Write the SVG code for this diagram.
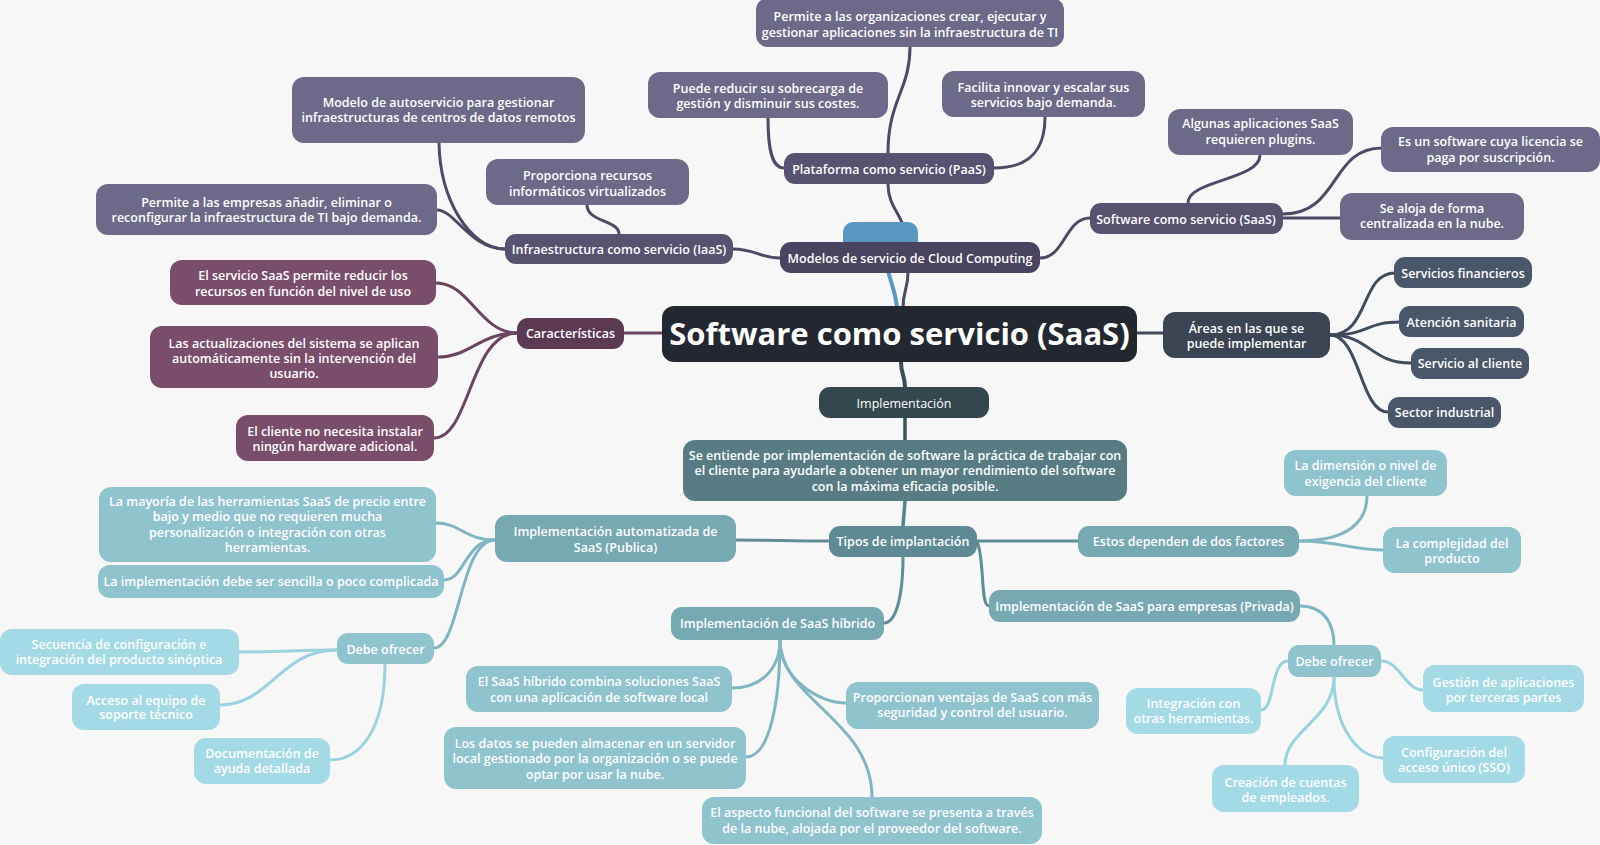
<svg xmlns="http://www.w3.org/2000/svg" width="1600" height="845" viewBox="0 0 1600 845">
<style>
text{font-family:"Open Sans","Noto Sans","Liberation Sans",sans-serif;font-weight:600;font-size:12.5px;fill:#ffffff;text-anchor:middle}
.c{fill:none;stroke-linecap:round}
.p0{fill:#494460}.p1{fill:#56526f}.p2{fill:#6d6989}
.m1{fill:#5c3a52}.m2{fill:#7a4e6b}
.s1{fill:#3a4453}.s2{fill:#4a5669}
.t0{fill:#34474d}.t1{fill:#577c83}.t2{fill:#5d8a94}.t3{fill:#77a9b3}.t4{fill:#8fc3ce}.t5{fill:#a3dae5}
.cp{stroke:#4e4a66;stroke-width:3}
.cm{stroke:#6b4560;stroke-width:3}
.cs{stroke:#404b5b;stroke-width:3}
.ct1{stroke:#5f8c96;stroke-width:3}
.ct2{stroke:#80b6c1;stroke-width:3}
.ct3{stroke:#9ad2dd;stroke-width:3}
.big{font-size:31px;font-weight:700}
.reg{font-weight:400}
</style>
<rect width="1600" height="845" fill="#f7f7f7"/>
<g id="connectors">
<path class="c" d="M897,308 C896,290 888,280 884,250" stroke="#5b97c0" stroke-width="4"/>
<path class="c cp" stroke-width="4" d="M903,308 C903,290 908,290 908,272"/>
<path class="c cp" d="M780,258 C760,258 755,249 733,249"/>
<path class="c cp" d="M906,243 C906,215 888,210 888,184"/>
<path class="c cp" d="M1040,258 C1065,258 1065,218 1090,218"/>
<path class="c cp" d="M888,153 C888,100 910,90 910,47"/>
<path class="c cp" d="M784,168 C772,168 768,150 768,118"/>
<path class="c cp" d="M994,168 C1030,168 1045,150 1045,117"/>
<path class="c cp" d="M505,249 C470,249 440,200 439,143"/>
<path class="c cp" d="M437,210 C455,210 470,249 505,249"/>
<path class="c cp" d="M619,234 C619,220 587,222 587,205"/>
<path class="c cp" d="M1188,203 C1188,180 1260,180 1260,155"/>
<path class="c cp" d="M1283,214 C1340,214 1330,148 1382,148"/>
<path class="c cp" d="M1283,218 L1340,218"/>
<path class="c cm" stroke-width="4" d="M662,333 L624,333"/>
<path class="c cm" d="M517,333 C480,333 470,283 436,283"/>
<path class="c cm" d="M517,333 C480,333 470,357 438,357"/>
<path class="c cm" d="M517,333 C470,333 470,438 434,438"/>
<path class="c cs" stroke-width="4" d="M1137,333 L1163,333"/>
<path class="c cs" d="M1330,335 C1370,335 1360,273 1395,273"/>
<path class="c cs" d="M1330,335 C1370,335 1365,322 1400,322"/>
<path class="c cs" d="M1330,335 C1370,335 1370,363 1411,363"/>
<path class="c cs" d="M1330,335 C1360,335 1360,412 1388,412"/>
<path class="c" stroke="#3a4d53" stroke-width="4" d="M901,362 C901,375 905,375 905,387"/>
<path class="c" stroke="#3d5359" stroke-width="3.5" d="M905,418 L905,440"/>
<path class="c" stroke="#5a828a" stroke-width="3.5" d="M905,501 L903,526"/>
<path class="c ct1" d="M829,541 C790,541 770,540 736,540"/>
<path class="c ct1" d="M977,541 L1078,541"/>
<path class="c ct1" d="M903,556 C903,600 895,623 884,623"/>
<path class="c ct1" d="M977,541 C985,560 980,606 989,606"/>
<path class="c ct2" d="M495,540 C465,540 460,523 436,523"/>
<path class="c ct2" d="M495,540 C465,540 465,580 444,580"/>
<path class="c ct2" d="M495,540 C460,540 460,648 434,648"/>
<path class="c ct3" d="M337,650 C300,650 280,652 239,652"/>
<path class="c ct3" d="M337,650 C280,650 270,705 220,705"/>
<path class="c ct3" d="M385,664 C385,730 360,760 330,760"/>
<path class="c ct2" d="M780,640 C780,670 760,688 732,688"/>
<path class="c ct2" d="M780,640 C780,700 770,757 746,757"/>
<path class="c ct2" d="M780,640 C780,680 820,703 846,703"/>
<path class="c ct2" d="M780,640 C780,700 872,720 872,797"/>
<path class="c ct2" d="M1299,541 C1350,541 1367,520 1367,496"/>
<path class="c ct2" d="M1299,541 C1340,541 1350,550 1383,550"/>
<path class="c ct2" d="M1300,606 C1325,606 1334,625 1334,645"/>
<path class="c ct3" d="M1381,661 C1400,661 1405,690 1423,690"/>
<path class="c ct3" d="M1288,661 C1270,661 1275,710 1261,710"/>
<path class="c ct3" d="M1334,677 C1334,730 1360,758 1383,758"/>
<path class="c ct3" d="M1334,677 C1334,720 1285,730 1285,765"/>
</g>
<g id="blue-tab"><rect x="843" y="222" width="75" height="30" rx="10" fill="#5b97c0"/></g>
<g id="modelos"><rect class="p0" x="780" y="242" width="260" height="31" rx="11"/><text x="910" y="262.5">Modelos de servicio de Cloud Computing</text></g>
<g id="iaas"><rect class="p1" x="505" y="234" width="228" height="30" rx="11"/><text x="619" y="253.5">Infraestructura como servicio (IaaS)</text></g>
<g id="paas"><rect class="p1" x="784" y="153" width="210" height="31" rx="11"/><text x="889" y="173.5">Plataforma como servicio (PaaS)</text></g>
<g id="saas2"><rect class="p1" x="1090" y="203" width="193" height="31" rx="11"/><text x="1186" y="223.5">Software como servicio (SaaS)</text></g>
<g id="iaas1"><rect class="p2" x="292" y="77" width="293" height="66" rx="12"/><text x="438.5" y="106.5">Modelo de autoservicio para gestionar</text><text x="438.5" y="121.5">infraestructuras de centros de datos remotos</text></g>
<g id="iaas2"><rect class="p2" x="486" y="159" width="203" height="46" rx="12"/><text x="587.5" y="179.5">Proporciona recursos</text><text x="587.5" y="195.5">informáticos virtualizados</text></g>
<g id="iaas3"><rect class="p2" x="96" y="184" width="341" height="51" rx="12"/><text x="266.5" y="206.5">Permite a las empresas añadir, eliminar o</text><text x="266.5" y="221.5">reconfigurar la infraestructura de TI bajo demanda.</text></g>
<g id="paas1"><rect class="p2" x="756" y="-2" width="308" height="49" rx="12"/><text x="910" y="20.5">Permite a las organizaciones crear, ejecutar y</text><text x="910" y="36.5">gestionar aplicaciones sin la infraestructura de TI</text></g>
<g id="paas2"><rect class="p2" x="648" y="72" width="240" height="46" rx="12"/><text x="768" y="92.5">Puede reducir su sobrecarga de</text><text x="768" y="107.5">gestión y disminuir sus costes.</text></g>
<g id="paas3"><rect class="p2" x="942" y="71" width="203" height="46" rx="12"/><text x="1043.5" y="91.5">Facilita innovar y escalar sus</text><text x="1043.5" y="106.5">servicios bajo demanda.</text></g>
<g id="saas2a"><rect class="p2" x="1168" y="109" width="185" height="46" rx="12"/><text x="1260.5" y="127.5">Algunas aplicaciones SaaS</text><text x="1260.5" y="143.5">requieren plugins.</text></g>
<g id="saas2b"><rect class="p2" x="1381" y="127" width="219" height="45" rx="12"/><text x="1490.5" y="145.5">Es un software cuya licencia se</text><text x="1490.5" y="161.5">paga por suscripción.</text></g>
<g id="saas2c"><rect class="p2" x="1340" y="193" width="184" height="47" rx="12"/><text x="1432" y="212.5">Se aloja de forma</text><text x="1432" y="227.5">centralizada en la nube.</text></g>
<g id="caracteristicas"><rect class="m1" x="517" y="318" width="107" height="31" rx="11"/><text x="570.5" y="338">Características</text></g>
<g id="car1"><rect class="m2" x="170" y="260" width="266" height="45" rx="12"/><text x="303" y="279.5">El servicio SaaS permite reducir los</text><text x="303" y="295.5">recursos en función del nivel de uso</text></g>
<g id="car2"><rect class="m2" x="150" y="326" width="288" height="62" rx="12"/><text x="294" y="347.5">Las actualizaciones del sistema se aplican</text><text x="294" y="362.5">automáticamente sin la intervención del</text><text x="294" y="377.5">usuario.</text></g>
<g id="car3"><rect class="m2" x="236" y="415" width="198" height="46" rx="12"/><text x="335" y="435.5">El cliente no necesita instalar</text><text x="335" y="450.5">ningún hardware adicional.</text></g>
<g id="central"><rect x="662" y="306" width="475" height="56" rx="12" fill="#232830"/><text class="big" x="899.5" y="345">Software como servicio (SaaS)</text></g>
<g id="areas"><rect class="s1" x="1163" y="312" width="167" height="46" rx="12"/><text x="1246.5" y="332.5">Áreas en las que se</text><text x="1246.5" y="347.5">puede implementar</text></g>
<g id="area1"><rect class="s2" x="1394" y="257" width="138" height="31" rx="11"/><text x="1463" y="277.5">Servicios financieros</text></g>
<g id="area2"><rect class="s2" x="1399" y="306" width="125" height="31" rx="11"/><text x="1461.5" y="326.5">Atención sanitaria</text></g>
<g id="area3"><rect class="s2" x="1411" y="348" width="118" height="31" rx="11"/><text x="1470" y="368">Servicio al cliente</text></g>
<g id="area4"><rect class="s2" x="1388" y="397" width="113" height="31" rx="11"/><text x="1444.5" y="417">Sector industrial</text></g>
<g id="implementacion"><rect class="t0" x="819" y="387" width="170" height="31" rx="11"/><text class="reg" x="904" y="407.5">Implementación</text></g>
<g id="se-entiende"><rect class="t1" x="683" y="440" width="444" height="61" rx="12"/><text x="905" y="459.5">Se entiende por implementación de software la práctica de trabajar con</text><text x="905" y="474.5">el cliente para ayudarle a obtener un mayor rendimiento del software</text><text x="905" y="490.5">con la máxima eficacia posible.</text></g>
<g id="tipos"><rect class="t2" x="829" y="526" width="148" height="31" rx="11"/><text x="903" y="546">Tipos de implantación</text></g>
<g id="automatizada"><rect class="t3" x="495" y="515" width="241" height="47" rx="12"/><text x="615.5" y="535.5">Implementación automatizada de</text><text x="615.5" y="551.5">SaaS (Publica)</text></g>
<g id="auto1"><rect class="t4" x="99" y="487" width="337" height="75" rx="12"/><text x="267.5" y="505.5">La mayoría de las herramientas SaaS de precio entre</text><text x="267.5" y="520.5">bajo y medio que no requieren mucha</text><text x="267.5" y="536.5">personalización o integración con otras</text><text x="267.5" y="551.5">herramientas.</text></g>
<g id="auto2"><rect class="t4" x="98" y="565" width="346" height="33" rx="12"/><text x="271" y="585.5">La implementación debe ser sencilla o poco complicada</text></g>
<g id="debe-l"><rect class="t4" x="337" y="633" width="97" height="31" rx="11"/><text x="385.5" y="653.5">Debe ofrecer</text></g>
<g id="debe-l1"><rect class="t5" x="0" y="629" width="239" height="46" rx="12"/><text x="119" y="648.5">Secuencia de configuración e</text><text x="119" y="663.5">integración del producto sinóptica</text></g>
<g id="debe-l2"><rect class="t5" x="72" y="684" width="148" height="46" rx="12"/><text x="146" y="704.5">Acceso al equipo de</text><text x="146" y="718.5">soporte técnico</text></g>
<g id="debe-l3"><rect class="t5" x="194" y="738" width="136" height="46" rx="12"/><text x="262" y="757.5">Documentación de</text><text x="262" y="772.5">ayuda detallada</text></g>
<g id="hibrido"><rect class="t3" x="671" y="607" width="213" height="33" rx="11"/><text x="777.5" y="628">Implementación de SaaS híbrido</text></g>
<g id="hib1"><rect class="t4" x="466" y="666" width="266" height="46" rx="12"/><text x="599" y="685.5">El SaaS híbrido combina soluciones SaaS</text><text x="599" y="701.5">con una aplicación de software local</text></g>
<g id="hib2"><rect class="t4" x="444" y="727" width="302" height="62" rx="12"/><text x="595" y="747.5">Los datos se pueden almacenar en un servidor</text><text x="595" y="762.5">local gestionado por la organización o se puede</text><text x="595" y="778.5">optar por usar la nube.</text></g>
<g id="hib3"><rect class="t4" x="846" y="682" width="253" height="47" rx="12"/><text x="972.5" y="701.5">Proporcionan ventajas de SaaS con más</text><text x="972.5" y="716.5">seguridad y control del usuario.</text></g>
<g id="hib4"><rect class="t4" x="702" y="797" width="340" height="47" rx="12"/><text x="872" y="816.5">El aspecto funcional del software se presenta a través</text><text x="872" y="832.5">de la nube, alojada por el proveedor del software.</text></g>
<g id="estos"><rect class="t3" x="1078" y="526" width="221" height="31" rx="11"/><text x="1188.5" y="546">Estos dependen de dos factores</text></g>
<g id="estos1"><rect class="t4" x="1284" y="450" width="163" height="46" rx="12"/><text x="1365.5" y="469.5">La dimensión o nivel de</text><text x="1365.5" y="485.5">exigencia del cliente</text></g>
<g id="estos2"><rect class="t4" x="1383" y="527" width="138" height="46" rx="12"/><text x="1452" y="547.5">La complejidad del</text><text x="1452" y="562.5">producto</text></g>
<g id="privada"><rect class="t3" x="989" y="590" width="311" height="32" rx="11"/><text x="1144.5" y="610.5">Implementación de SaaS para empresas (Privada)</text></g>
<g id="debe-r"><rect class="t4" x="1288" y="645" width="93" height="32" rx="11"/><text x="1334.5" y="665.5">Debe ofrecer</text></g>
<g id="debe-r1"><rect class="t5" x="1423" y="665" width="161" height="47" rx="12"/><text x="1503.5" y="686.5">Gestión de aplicaciones</text><text x="1503.5" y="701.5">por terceras partes</text></g>
<g id="debe-r2"><rect class="t5" x="1126" y="688" width="135" height="46" rx="12"/><text x="1193.5" y="707.5">Integración con</text><text x="1193.5" y="722.5">otras herramientas.</text></g>
<g id="debe-r3"><rect class="t5" x="1383" y="736" width="142" height="47" rx="12"/><text x="1454" y="756.5">Configuración del</text><text x="1454" y="771.5">acceso único (SSO)</text></g>
<g id="debe-r4"><rect class="t5" x="1212" y="765" width="147" height="47" rx="12"/><text x="1285.5" y="786.5">Creación de cuentas</text><text x="1285.5" y="801.5">de empleados.</text></g>
</svg>
